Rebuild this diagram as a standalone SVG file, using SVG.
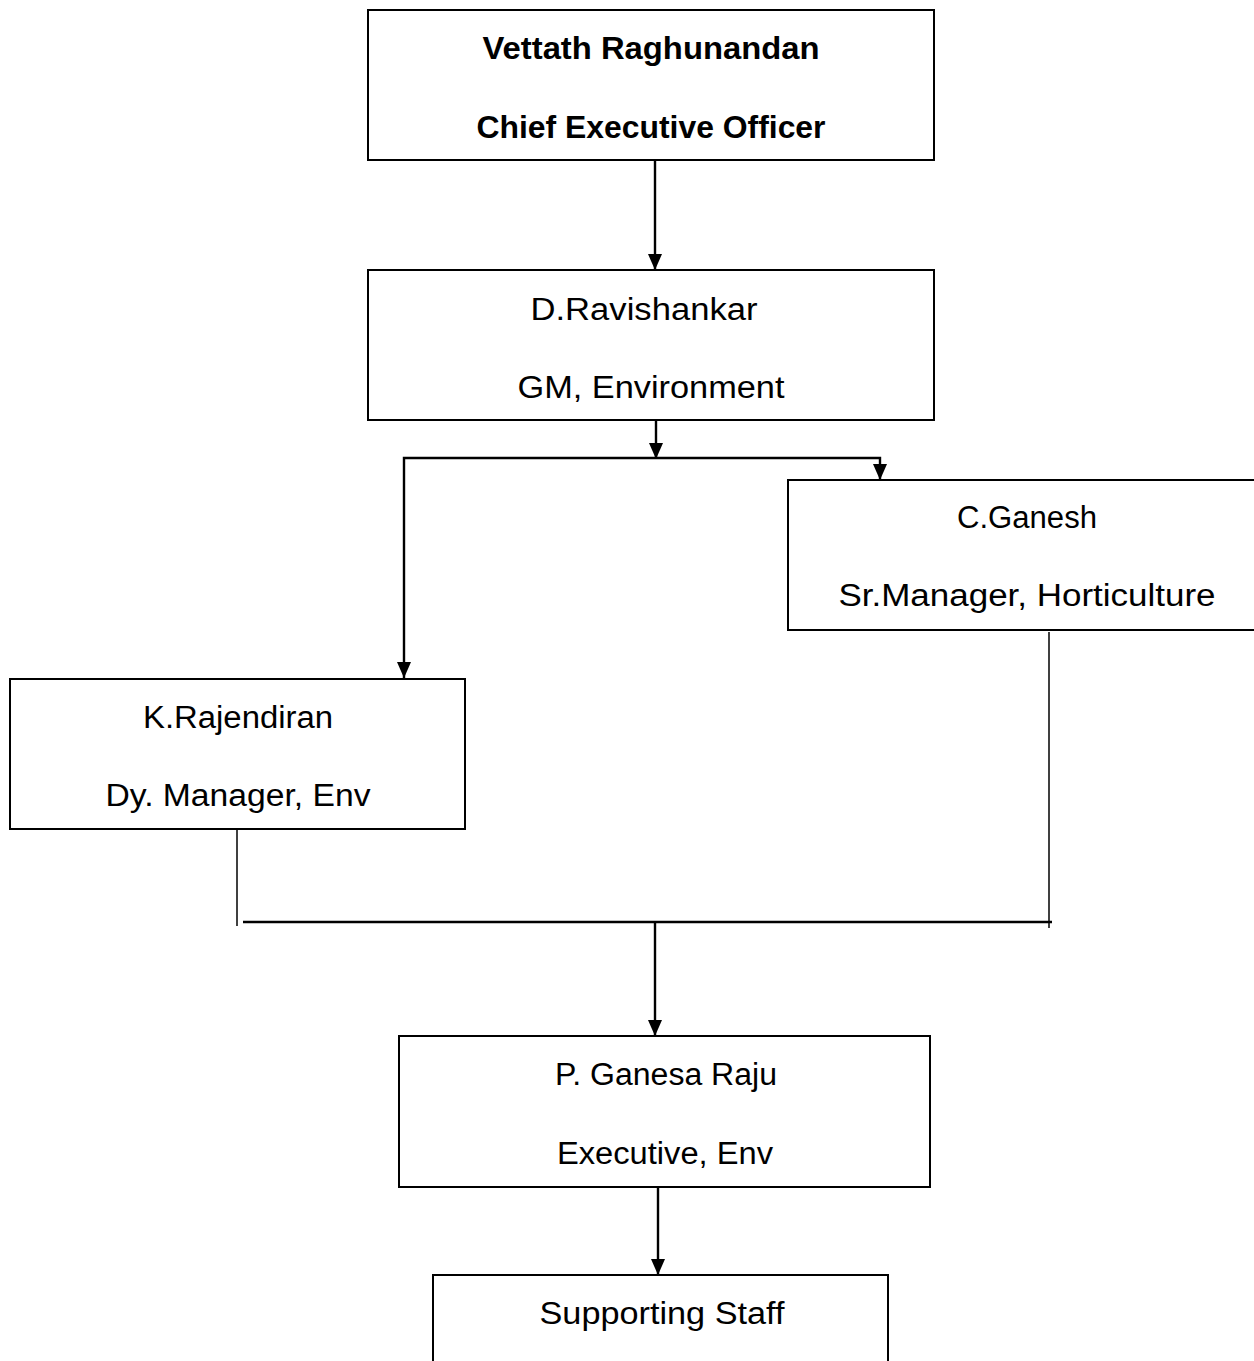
<svg xmlns="http://www.w3.org/2000/svg" width="1254" height="1361" viewBox="0 0 1254 1361">
<style>
.box{fill:#fff;stroke:#000;stroke-width:2}
.t{font-family:"Liberation Sans",Arial,sans-serif;font-size:31px;fill:#000;text-anchor:middle}
.b{font-weight:bold}
.c{fill:none;stroke:#000;stroke-width:2.4}
.thin{fill:none;stroke:#000;stroke-width:1.5}
</style>
<defs>
<marker id="arr" viewBox="0 0 16 14" refX="16" refY="7" markerWidth="16" markerHeight="14" markerUnits="userSpaceOnUse" orient="auto">
<path d="M0,0 L16,7 L0,14 Z" fill="#000"/>
</marker>
</defs>
<g id="connectors">
<line class="c" x1="655" y1="160" x2="655" y2="270" marker-end="url(#arr)"/>
<line class="c" x1="656" y1="420" x2="656" y2="459" marker-end="url(#arr)"/>
<polyline class="c" points="656,458 404,458 404,678" marker-end="url(#arr)"/>
<polyline class="c" points="656,458 880,458 880,480" marker-end="url(#arr)"/>
<line class="thin" x1="237" y1="830" x2="237" y2="926"/>
<line class="thin" x1="1049" y1="632" x2="1049" y2="928"/>
<line class="c" x1="243" y1="922" x2="1052" y2="922"/>
<line class="c" x1="655" y1="921" x2="655" y2="1036" marker-end="url(#arr)"/>
<line class="c" x1="658" y1="1187" x2="658" y2="1275" marker-end="url(#arr)"/>
</g>
<g id="ceo">
<rect class="box" x="368" y="10" width="566" height="150"/>
<text class="t b" x="651" y="59" textLength="337" lengthAdjust="spacingAndGlyphs">Vettath Raghunandan</text>
<text class="t b" x="651" y="138" textLength="349" lengthAdjust="spacingAndGlyphs">Chief Executive Officer</text>
</g>
<g id="gm">
<rect class="box" x="368" y="270" width="566" height="150"/>
<text class="t" x="644" y="320" textLength="227" lengthAdjust="spacingAndGlyphs">D.Ravishankar</text>
<text class="t" x="651" y="398" textLength="267" lengthAdjust="spacingAndGlyphs">GM, Environment</text>
</g>
<g id="ganesh">
<rect class="box" x="788" y="480" width="470" height="150"/>
<text class="t" x="1027" y="528" textLength="140" lengthAdjust="spacingAndGlyphs">C.Ganesh</text>
<text class="t" x="1027" y="606" textLength="377" lengthAdjust="spacingAndGlyphs">Sr.Manager, Horticulture</text>
</g>
<g id="rajendiran">
<rect class="box" x="10" y="679" width="455" height="150"/>
<text class="t" x="238" y="728" textLength="190" lengthAdjust="spacingAndGlyphs">K.Rajendiran</text>
<text class="t" x="238" y="806" textLength="265" lengthAdjust="spacingAndGlyphs">Dy. Manager, Env</text>
</g>
<g id="ganesaraju">
<rect class="box" x="399" y="1036" width="531" height="151"/>
<text class="t" x="666" y="1085" textLength="222" lengthAdjust="spacingAndGlyphs">P. Ganesa Raju</text>
<text class="t" x="665" y="1164" textLength="216" lengthAdjust="spacingAndGlyphs">Executive, Env</text>
</g>
<g id="staff">
<path class="box" d="M433,1363 V1275 H888 V1363"/>
<text class="t" x="662" y="1324" textLength="245" lengthAdjust="spacingAndGlyphs">Supporting Staff</text>
</g>
</svg>
